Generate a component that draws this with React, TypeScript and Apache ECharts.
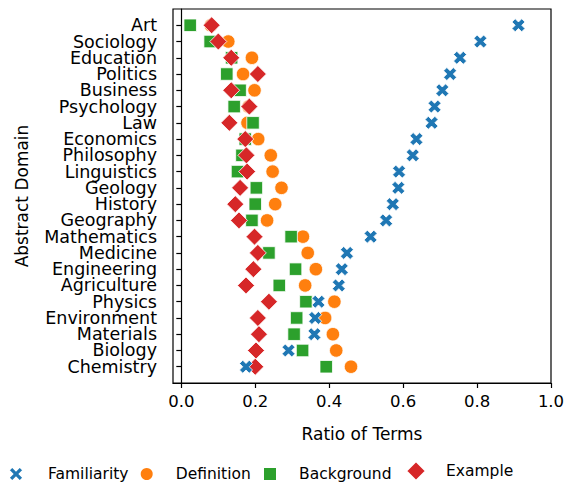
import React, { useEffect, useRef } from "react";
import * as echarts from "echarts";

const categories = [
  "Art", "Sociology", "Education", "Politics", "Business", "Psychology", "Law",
  "Economics", "Philosophy", "Linguistics", "Geology", "History", "Geography",
  "Mathematics", "Medicine", "Engineering", "Agriculture", "Physics",
  "Environment", "Materials", "Biology", "Chemistry",
];
const familiarity = [0.912, 0.809, 0.754, 0.727, 0.706, 0.685, 0.677, 0.636, 0.626, 0.589, 0.587, 0.572, 0.554, 0.512, 0.448, 0.434, 0.426, 0.371, 0.362, 0.36, 0.29, 0.175];
const definition = [0.08, 0.127, 0.191, 0.167, 0.198, 0.182, 0.179, 0.208, 0.242, 0.247, 0.271, 0.254, 0.232, 0.329, 0.342, 0.364, 0.335, 0.414, 0.389, 0.41, 0.419, 0.459];
const background = [0.024, 0.078, 0.136, 0.123, 0.159, 0.143, 0.194, 0.173, 0.164, 0.152, 0.203, 0.2, 0.191, 0.297, 0.237, 0.309, 0.265, 0.337, 0.312, 0.305, 0.328, 0.392];
const example = [0.082, 0.1, 0.135, 0.207, 0.135, 0.184, 0.13, 0.173, 0.176, 0.178, 0.159, 0.146, 0.156, 0.198, 0.207, 0.195, 0.175, 0.237, 0.207, 0.21, 0.202, 0.2];
const xTicks = [0, 0.2, 0.4, 0.6, 0.8, 1.0];

const FONT = "DejaVu Sans";
const X_PATH = "path://M0,3 L3,0 L6,3 L9,0 L12,3 L9,6 L12,9 L9,12 L6,9 L3,12 L0,9 L3,6 Z";

export default function App() {
  const ref = useRef<HTMLDivElement>(null);
  useEffect(() => {
    if (!ref.current) return;
    const chart = echarts.init(ref.current, null, { renderer: "svg" });
    const yData = ["", ...categories, " "];
    const mk = (vals: number[]) => vals.map((v, i) => [v, categories[i]]);
    const edge = { borderColor: "#ffffff", borderWidth: 0.8, opacity: 1 };
    const legendBase = {
      orient: "horizontal",
      padding: 0,
      textStyle: { fontFamily: FONT, fontSize: 15.5, color: "#000" },
      selectedMode: false,
    };
    chart.setOption({
      animation: false,
      backgroundColor: "#ffffff",
      grid: {
        left: 173, right: 20, top: 9, bottom: 101,
        show: true, borderColor: "#000", borderWidth: 1.2, backgroundColor: "transparent",
      },
      xAxis: {
        type: "value",
        min: -0.0225,
        max: 1.0,
        splitLine: { show: false },
        axisLine: { show: true, lineStyle: { color: "#000", width: 1.2 } },
        axisTick: { show: true, customValues: xTicks, length: 5, lineStyle: { color: "#000", width: 1.2 } },
        axisLabel: {
          customValues: xTicks,
          formatter: (v: number) => v.toFixed(1),
          fontFamily: FONT, fontSize: 16.5, color: "#000", margin: 10,
        },
        name: "Ratio of Terms",
        nameLocation: "middle",
        nameGap: 42,
        nameTextStyle: { fontFamily: FONT, fontSize: 17, color: "#000" },
      },
      yAxis: {
        type: "category",
        data: yData,
        inverse: true,
        boundaryGap: false,
        axisLine: { show: true, lineStyle: { color: "#000", width: 1.2 } },
        axisTick: {
          show: true, length: 5,
          interval: (_i: number, v: string) => v.trim() !== "",
          lineStyle: { color: "#000", width: 1.2 },
        },
        axisLabel: {
          interval: 0,
          fontFamily: FONT, fontSize: 17.5, color: "#000", margin: 16,
        },
        splitLine: { show: false },
        name: "Abstract Domain",
        nameLocation: "middle",
        nameGap: 143,
        nameTextStyle: { fontFamily: FONT, fontSize: 17, color: "#000" },
      },
      legend: [
        { ...legendBase, data: ["Familiarity"], left: 7.5, top: 465.5, itemWidth: 15, itemHeight: 15, textStyle: { ...legendBase.textStyle, padding: [0, 0, 0, 19.5] } },
        { ...legendBase, data: ["Definition"], left: 138.7, top: 466, itemWidth: 14, itemHeight: 14, textStyle: { ...legendBase.textStyle, padding: [0, 0, 0, 17] } },
        { ...legendBase, data: ["Background"], left: 262, top: 466, itemWidth: 14, itemHeight: 14, textStyle: { ...legendBase.textStyle, padding: [0, 0, 0, 17] } },
        { ...legendBase, data: ["Example"], left: 405, top: 460, itemWidth: 20, itemHeight: 20, textStyle: { ...legendBase.textStyle, padding: [0, 0, 0, 15] } },
      ],
      series: [
        { name: "Familiarity", type: "scatter", z: 3, symbol: X_PATH, symbolSize: 13, data: mk(familiarity), itemStyle: { color: "#1f77b4", ...edge } },
        { name: "Definition", type: "scatter", symbol: "circle", symbolSize: 13.5, data: mk(definition), itemStyle: { color: "#ff7f0e", ...edge } },
        { name: "Background", type: "scatter", symbol: "rect", symbolSize: 12.5, data: mk(background), itemStyle: { color: "#2ca02c", ...edge } },
        { name: "Example", type: "scatter", symbol: "diamond", symbolSize: 17, data: mk(example), itemStyle: { color: "#d62728", ...edge } },
      ],
    });
    return () => chart.dispose();
  }, []);
  return <div ref={ref} style={{ width: 571, height: 484, position: "absolute", left: 0, top: 0 }} />;
}
